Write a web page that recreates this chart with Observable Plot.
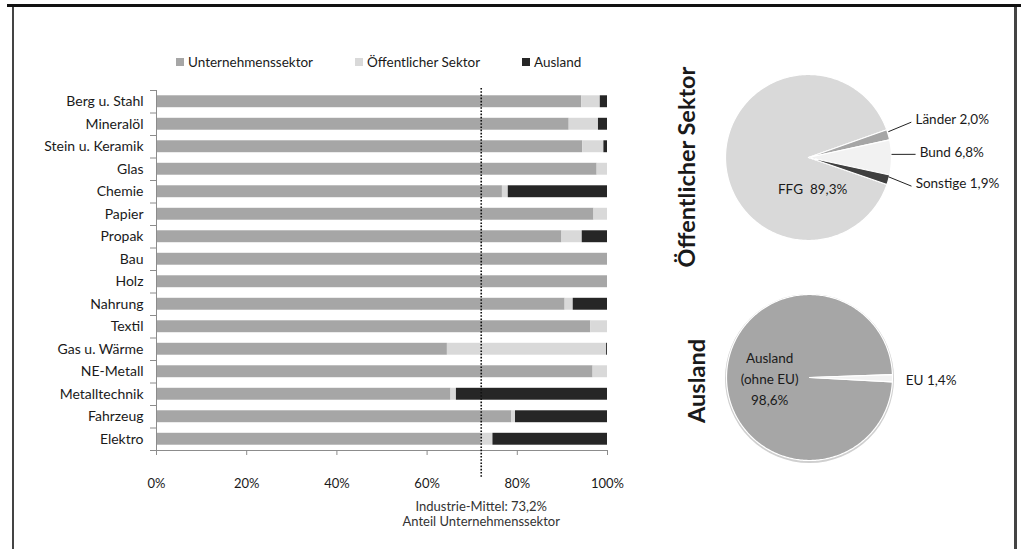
<!DOCTYPE html>
<html><head><meta charset="utf-8">
<script src="https://cdn.jsdelivr.net/npm/d3@7"></script>
<script src="https://cdn.jsdelivr.net/npm/@observablehq/plot@0.6"></script>
<style>
body{margin:0;background:#fff;width:1021px;height:549px;overflow:hidden;position:relative;font-family:Lato,"Open Sans",sans-serif;color:#1a1a1a;}
.abs{position:absolute;}
.leg{position:absolute;top:55px;font-size:13.5px;line-height:14px;white-space:nowrap;display:flex;align-items:center;}
.sw{display:inline-block;width:8px;height:8px;margin-right:4px;}
.vtitle{position:absolute;font-weight:bold;font-size:23.5px;white-space:nowrap;transform:translate(-50%,-50%) rotate(-90deg);color:#1a1a1a;}
</style></head><body>
<div class="abs" style="left:7px;top:4px;width:1014px;height:3px;background:#111"></div>
<div class="abs" style="left:12px;top:7px;width:2px;height:542px;background:#444"></div>
<div class="abs" style="left:1014px;top:7px;width:3px;height:542px;background:#444"></div>
<div id="bars" class="abs" style="left:0;top:0"></div>
<div id="legend"></div>
<div id="pie1" class="abs"></div>
<div id="pie2" class="abs"></div>
<div class="vtitle" style="left:686px;top:167px">Öffentlicher Sektor</div>
<div class="vtitle" style="left:696px;top:381px">Ausland</div>
<script>
// ---- data ----
const categories = ["Berg u. Stahl","Mineralöl","Stein u. Keramik","Glas","Chemie","Papier","Propak","Bau","Holz","Nahrung","Textil","Gas u. Wärme","NE-Metall","Metalltechnik","Fahrzeug","Elektro"];
const unternehmen = [94.3,91.5,94.5,97.7,76.7,97.0,89.9,100,100,90.6,96.3,64.5,96.8,65.3,78.8,72.0];
const oeffentlich = [4.1,6.5,4.7,2.3,1.3,3.0,4.5,0,0,1.8,3.7,35.3,3.2,1.2,0.8,2.6];
const ausland     = [1.6,2.0,0.8,0,22.0,0,5.6,0,0,7.6,0,0.2,0,33.5,20.4,25.4];
const seriesNames = ["Unternehmenssektor","Öffentlicher Sektor","Ausland"];
const xTicks = [0,20,40,60,80,100];
const industryMean = 72.0;
const meanNote = "Industrie-Mittel: 73,2%\nAnteil Unternehmenssektor";

const oeffLabels = ["FFG","Länder","Bund","Sonstige"];
const oeffValues = [89.3,2.0,6.8,1.9];
const oeffText = ["FFG  89,3%","Länder 2,0%","Bund 6,8%","Sonstige 1,9%"];
const auslLabels = ["Ausland (ohne EU)","EU"];
const auslValues = [98.6,1.4];
const auslText = ["Ausland\n(ohne EU)\n98,6%","EU 1,4%"];

// ---- styles ----
const seriesColors = ["#a6a6a6","#d9d9d9","#262626"];
const axisGray = "#8c8c8c";

// legend
const legX = [176,355,522];
const legend = document.getElementById("legend");
seriesNames.forEach((n,i)=>{
  const d = document.createElement("div");
  d.className="leg"; d.style.left = legX[i]+"px";
  d.innerHTML = `<span class="sw" style="background:${seriesColors[i]}"></span>${n}`;
  legend.appendChild(d);
});

// bar chart
const rows = [];
const seriesVals = [unternehmen, oeffentlich, ausland];
seriesNames.forEach((s,si)=>categories.forEach((c,ci)=>rows.push({category:c, series:s, value:seriesVals[si][ci]})));
const step = 22.5;
const bars = Plot.plot({
  width: 640, height: 545,
  marginLeft: 156, marginRight: 33, marginTop: 90, marginBottom: 95,
  style: {background:"transparent", fontFamily:"Lato, 'Open Sans', sans-serif", fontSize:"14px", color:"#1a1a1a"},
  x: {domain:[0,100], axis:null},
  y: {domain: categories, paddingInner: 0.47, paddingOuter: 0.235, round:false, axis:null},
  color: {domain: seriesNames, range: seriesColors},
  marks: [
    Plot.barX(rows, Plot.stackX({x:"value", y:"category", fill:"series", order:null})),
    Plot.ruleX([0], {stroke: axisGray}),
    Plot.ruleY([categories[categories.length-1]], {dy: step/2, stroke: axisGray}),
    Plot.ruleY(categories, {x1: 0, x2: 0, insetLeft: -6, dy: -step/2, stroke: axisGray}),
    Plot.ruleY([categories[categories.length-1]], {x1: 0, x2: 0, insetLeft: -6, dy: step/2, stroke: axisGray}),
    Plot.ruleX([industryMean], {stroke:"#111", strokeWidth:1.6, strokeDasharray:"1.6,1.6", insetTop:-2, insetBottom:-28}),
    Plot.axisY({tickSize:0, tickPadding:13, fontSize:14, label:null}),
    Plot.axisX({ticks:xTicks, tickFormat:d=>d+"%", tickSize:5, tickPadding:23, stroke:axisGray, fontSize:13, label:null}),
    Plot.text([meanNote], {x: ()=>industryMean, frameAnchor:"bottom", lineAnchor:"top", dy:49, fontSize:13, fill:"#333", lineHeight:1.2})
  ]
});
document.getElementById("bars").appendChild(bars);

// pies
function pieMarks(values, startDeg, colors, stroke) {
  const total = d3.sum(values);
  let a = startDeg;
  const slices = values.map((v,i)=>{
    const a0 = a, a1 = a + v/total*360; a = a1;
    const pts = [[0,0]];
    const n = Math.max(2, Math.ceil((a1-a0)/1));
    for (let k=0;k<=n;k++){ const t=(a0+(a1-a0)*k/n)*Math.PI/180; pts.push([Math.sin(t), -Math.cos(t)]); }
    pts.push([0,0]);
    return {i, a0, a1, mid:(a0+a1)/2, pts};
  });
  const marks = slices.map(s=>Plot.line(s.pts, {x:d=>d[0], y:d=>d[1], fill:colors[s.i], stroke:stroke, strokeWidth:1.2, curve:"linear"}));
  return {slices, marks};
}
function pieFrame(el, left, top, w, h, cx, cy, R, marks) {
  const p = Plot.plot({
    width:w, height:h, margin:0,
    style:{background:"transparent", fontFamily:"Lato, 'Open Sans', sans-serif", fontSize:"13px", color:"#1a1a1a", overflow:"visible"},
    x:{domain:[-(cx-left)/R, (left+w-cx)/R], axis:null},
    y:{domain:[(top+h-cy)/R, -(cy-top)/R], axis:null},
    marks
  });
  el.style.left = left+"px"; el.style.top = top+"px";
  el.appendChild(p);
}
const R = 83;
// Öffentlicher Sektor pie
{
  const {slices, marks} = pieMarks(oeffValues, 109, ["#d9d9d9","#a6a6a6","#f2f2f2","#404040"], "#fff");
  const outer = slices.slice(1).map(s=>{
    const t = s.mid*Math.PI/180;
    return {text: oeffText[s.i], x: 1.34*Math.sin(t), y: -1.42*Math.cos(t), ex: Math.sin(t), ey: -Math.cos(t)};
  });
  marks.push(
    Plot.link(outer, {x1:"ex", y1:"ey", x2:d=>d.x-0.05, y2:"y", stroke:"#222", strokeWidth:1, dy:-3}),
    Plot.text(outer, {x:"x", y:"y", text:"text", textAnchor:"start", dy:-5, fontSize:13.5}),
    Plot.text([oeffText[0]], {x:()=>0.05, y:()=>0.39, fontSize:13.5})
  );
  pieFrame(document.getElementById("pie1"), 700, 55, 315, 210, 808, 157, R, marks);
}
// Ausland pie
{
  const {slices, marks} = pieMarks(auslValues, 93, ["#a6a6a6","#f2f2f2"], "#fff");
  marks.unshift(Plot.dot([0], {x:()=>0, y:()=>0, r:R+1.5, fill:"#cfcfcf", dy:1}));
  const eu = slices[1]; const t = eu.mid*Math.PI/180;
  marks.push(
    Plot.text([auslText[1]], {x:()=>1.16*Math.sin(t), y:()=>-1.16*Math.cos(t), textAnchor:"start", dy:2, fontSize:13.5}),
    Plot.text([auslText[0]], {x:()=>-0.48, y:()=>0.0, fontSize:13.5, lineHeight:1.55})
  );
  pieFrame(document.getElementById("pie2"), 700, 280, 315, 200, 809, 377, R, marks);
}
</script>
</body></html>
